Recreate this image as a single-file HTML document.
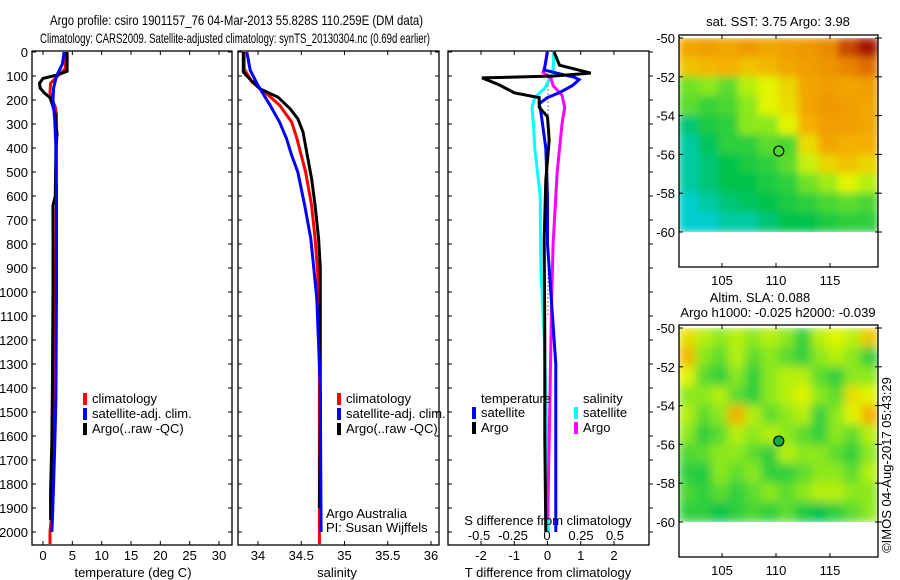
<!DOCTYPE html>
<html><head><meta charset="utf-8"><style>
html,body{margin:0;padding:0;background:#fff;}
svg{display:block;font-family:"Liberation Sans",sans-serif;}
</style></head><body>
<svg id="fig" width="900" height="580" viewBox="0 0 900 580" xmlns="http://www.w3.org/2000/svg">
<defs>
<clipPath id="cm1"><rect x="679" y="38" width="199" height="194"/></clipPath>
<clipPath id="cm2"><rect x="679" y="328" width="199" height="194"/></clipPath>
<filter id="bl1" x="-5%" y="-5%" width="110%" height="110%"><feGaussianBlur stdDeviation="4"/></filter>
<filter id="bl2" x="-5%" y="-5%" width="110%" height="110%"><feGaussianBlur stdDeviation="5"/></filter>
</defs>
<text x="50" y="25" font-size="14" textLength="373" lengthAdjust="spacingAndGlyphs">Argo profile: csiro 1901157_76 04-Mar-2013 55.828S 110.259E (DM data)</text>
<text x="40" y="43" font-size="14" textLength="390" lengthAdjust="spacingAndGlyphs">Climatology: CARS2009. Satellite-adjusted climatology: synTS_20130304.nc (0.69d earlier)</text>
<g id="g"></g>
</svg>
<script>
// ---------- data ----------
const depthTicks=[0,100,200,300,400,500,600,700,800,900,1000,1100,1200,1300,1400,1500,1600,1700,1800,1900,2000];
// temperature profiles
const tArgoD=[0,80,95,110,130,150,170,190,220,260,300,340,400,600,640,1000,1400,1630,1830,1950];
const tArgoV=[4.1,4.1,2.5,0.0,-0.6,-0.5,0.2,1.2,1.6,2.1,2.2,2.4,2.2,2.1,1.7,1.7,1.6,1.5,1.3,1.3];
const tClimD=[0,70,100,130,170,200,230,260,400,1000,1500,1900,2000,2050];
const tClimV=[3.9,3.8,2.5,1.3,1.2,1.6,2.1,2.3,2.3,2.2,2.0,1.6,1.2,1.2];
const tSatD=[0,50,100,150,200,280,400,600,1000,1450,1650,1800,1950,2000];
const tSatV=[3.6,3.3,2.3,1.8,1.7,2.0,2.2,2.3,2.3,2.2,2.0,1.8,1.6,1.5];
// salinity profiles
const sArgoD=[0,83,100,153,188,236,278,333,431,528,639,778,900,1500,1900];
const sArgoV=[33.83,33.83,33.87,34.02,34.23,34.37,34.46,34.52,34.57,34.62,34.66,34.70,34.72,34.72,34.71];
const sClimD=[0,70,125,167,222,292,361,500,639,778,917,1200,1600,2050];
const sClimV=[33.84,33.84,33.93,34.08,34.25,34.39,34.45,34.55,34.62,34.66,34.69,34.71,34.71,34.71];
const sSatD=[0,76,139,222,292,361,431,500,639,778,917,1028,1400,2000];
const sSatV=[33.87,33.91,34.0,34.14,34.25,34.33,34.39,34.46,34.54,34.61,34.65,34.68,34.72,34.73];
// difference profiles
const dTArgoD=[0,55,88,100,108,137,170,190,230,270,367,533,780,1200,1600,2000];
const dTArgoV=[0.2,0.36,1.3,0.2,-1.97,-1.45,-1.0,-0.25,-0.25,0.0,0.05,-0.05,-0.1,-0.08,-0.08,-0.05];
const dTSatD=[0,75,85,105,115,140,170,190,215,250,400,600,800,1300,1600,2000];
const dTSatV=[0.0,-0.1,0.2,0.8,0.95,0.75,0.35,0.0,-0.25,-0.2,-0.05,0.0,0.0,0.25,0.25,0.25];
const dSSatD=[0,90,110,150,190,230,300,400,600,900,1200,1600,2000];
const dSSatV=[0.05,0.045,0.02,-0.015,-0.09,-0.11,-0.1,-0.09,-0.05,-0.045,-0.02,0.0,0.01];
const dSArgoD=[0,60,85,110,140,180,230,300,500,800,1000,1500,1950];
const dSArgoV=[0.0,-0.015,-0.03,0.03,0.045,0.11,0.13,0.11,0.075,0.045,0.035,0.02,0.005];
// SST map (rows -50..-60, cols 101.7..119.9)
const sstGrid=[
[0.72,0.74,0.72,0.75,0.72,0.74,0.75,0.78,0.9,0.97],
[0.66,0.68,0.7,0.66,0.68,0.72,0.74,0.76,0.8,0.85],
[0.42,0.45,0.4,0.5,0.55,0.62,0.72,0.74,0.72,0.74],
[0.4,0.36,0.38,0.45,0.55,0.6,0.72,0.75,0.74,0.72],
[0.25,0.33,0.35,0.45,0.45,0.55,0.7,0.74,0.74,0.72],
[0.2,0.28,0.35,0.35,0.4,0.38,0.6,0.72,0.7,0.7],
[0.2,0.25,0.3,0.33,0.35,0.4,0.52,0.62,0.66,0.62],
[0.2,0.25,0.3,0.3,0.33,0.35,0.42,0.47,0.55,0.5],
[0.15,0.2,0.25,0.28,0.3,0.33,0.35,0.38,0.4,0.38],
[0.15,0.15,0.2,0.2,0.25,0.3,0.3,0.33,0.35,0.35]];
// SLA map
const slaGrid=[
[0.6,0.5,0.45,0.5,0.45,0.5,0.45,0.35,0.5,0.55,0.5,0.65],
[0.68,0.45,0.4,0.5,0.4,0.45,0.4,0.35,0.45,0.5,0.45,0.35],
[0.55,0.4,0.35,0.45,0.35,0.45,0.5,0.5,0.4,0.35,0.45,0.45],
[0.45,0.45,0.5,0.4,0.35,0.45,0.5,0.55,0.45,0.4,0.6,0.55],
[0.5,0.4,0.45,0.7,0.5,0.4,0.45,0.5,0.35,0.45,0.55,0.7],
[0.45,0.35,0.4,0.5,0.45,0.5,0.45,0.4,0.35,0.45,0.4,0.5],
[0.38,0.4,0.45,0.45,0.4,0.35,0.5,0.45,0.45,0.4,0.35,0.45],
[0.35,0.33,0.45,0.4,0.45,0.35,0.35,0.4,0.45,0.45,0.4,0.5],
[0.38,0.35,0.4,0.35,0.4,0.45,0.4,0.45,0.5,0.5,0.45,0.45],
[0.35,0.35,0.3,0.35,0.38,0.35,0.4,0.33,0.3,0.35,0.4,0.45]];
const tempTicks=[0,5,10,15,20,25,30];
const salTicks=[34,34.5,35,35.5,36];
const tdTicks=[-2,-1,0,1,2];
const sdTicks=[-0.5,-0.25,0,0.25,0.5];
const latTicks=[-50,-52,-54,-56,-58,-60];
const lonTicks=[105,110,115];
const argoLon=110.259, argoLat=-55.828;

// ---------- helpers ----------
const NS="http://www.w3.org/2000/svg";
const G=document.getElementById('g');
function mk(tag,attrs,parent){const e=document.createElementNS(NS,tag);for(const k in attrs)e.setAttribute(k,attrs[k]);(parent||G).appendChild(e);return e;}
function txt(s,x,y,anchor,size,parent){const e=mk('text',{x:x,y:y,'text-anchor':anchor||'start','font-size':size||13},parent);e.textContent=s;return e;}
const yD=d=>52+0.24*d;
function lin(v0,p0,v1,p1){return v=>p0+(v-v0)*(p1-p0)/(v1-v0);}
const xT=lin(0,43,30,219);
const xS=lin(34,258,36,431);
const xTD=lin(-2,481,2,614);
const xSD=lin(-0.5,479,0.5,615);
const yLat=lin(-50,38,-60,232);
const xLon=lin(105,722,115,830);
const yLat2=lin(-50,328,-60,522);

function line(xs,ds,fx,color,w,name,parent){
  const pts=xs.map((v,i)=>fx(v).toFixed(1)+','+yD(ds[i]).toFixed(1)).join(' ');
  const p=mk('polyline',{points:pts,fill:'none',stroke:color,'stroke-width':w,'stroke-linejoin':'miter'},parent);
  
  
  return p;
}
function frame(x,y,w,h,name){const r=mk('rect',{x:x,y:y,width:w,height:h,fill:'none',stroke:'#000','stroke-width':1.3});}
function depthAxis(x0,x1,labels,outsideRight){
  depthTicks.forEach(d=>{const y=yD(d);
    mk('line',{x1:x0,y1:y,x2:x0+4,y2:y,stroke:'#000'});
    if(outsideRight) mk('line',{x1:x1,y1:y,x2:x1+4,y2:y,stroke:'#000'});
    else mk('line',{x1:x1-4,y1:y,x2:x1,y2:y,stroke:'#000'});
    if(labels){const t=txt(String(d),x0-4,y+5,'end',13);}
  });
}
function xAxis(ticks,fx,yTop,yBot,labY,fmt){
  ticks.forEach(v=>{const x=fx(v);
    mk('line',{x1:x,y1:yBot,x2:x,y2:yBot-4,stroke:'#000'});
    mk('line',{x1:x,y1:yTop,x2:x,y2:yTop+4,stroke:'#000'});
    const t=txt(fmt?fmt(v):String(v),x,labY,'middle',13);
    
    
  });
}
function legend(x,y,items){
  items.forEach((it,i)=>{
    const b=mk('rect',{x:x,y:y+i*15-10,width:4,height:12,fill:it[1]});
    
    
    const t=txt(it[0],x+9,y+i*15,'start',13);
    
    
  });
}
function cmap(v){
  const st=[[0,[0,210,225]],[0.15,[0,205,205]],[0.3,[0,195,75]],[0.45,[140,232,30]],[0.55,[225,245,0]],[0.7,[245,175,0]],[0.85,[225,110,0]],[1,[150,0,0]]];
  v=Math.max(0,Math.min(1,v));
  for(let i=1;i<st.length;i++){if(v<=st[i][0]){const a=st[i-1],b=st[i],f=(v-a[0])/(b[0]-a[0]);
    return 'rgb('+a[1].map((c,k)=>Math.round(c+f*(b[1][k]-c))).join(',')+')';}}
  return 'rgb(150,0,0)';
}
function heat(grid,x0,x1,y0,y1,clip,filt,name){
  const g=mk('g',{'clip-path':'url(#'+clip+')'});
  const g2=mk('g',{filter:'url(#'+filt+')'},g);
  const R=grid.length,C=grid[0].length,cw=(x1-x0)/C,ch=(y1-y0)/R;
  grid.forEach((row,r)=>row.forEach((v,c)=>{
    const e=mk('rect',{x:(x0+c*cw-0.5).toFixed(1),y:(y0+r*ch-0.5).toFixed(1),width:(cw+1).toFixed(1),height:(ch+1).toFixed(1),fill:cmap(v)},g2);
    
    
  }));
  return g;
}

// ---------- panel 1: temperature ----------
frame(32,51,200,494,'temperature-panel');
depthAxis(32,232,true,false);
xAxis(tempTicks,xT,51,545,560);
txt('temperature (deg C)',133,577,'middle',13);
line(tClimV,tClimD,xT,'#f00',3,'temp-climatology-line');
line(tArgoV,tArgoD,xT,'#000',3,'temp-argo-line');
line(tSatV,tSatD,xT,'#00f',3,'temp-satellite-line');
legend(83,403,[['climatology','#f00'],['satellite-adj. clim.','#00f'],['Argo(..raw -QC)','#000']]);

// ---------- panel 2: salinity ----------
frame(238,51,201,494,'salinity-panel');
depthAxis(238,439,false,false);
xAxis(salTicks,xS,51,545,560);
txt('salinity',337,577,'middle',13);
line(sClimV,sClimD,xS,'#f00',3,'sal-climatology-line');
line(sArgoV,sArgoD,xS,'#000',3,'sal-argo-line');
line(sSatV,sSatD,xS,'#00f',3,'sal-satellite-line');
legend(337,403,[['climatology','#f00'],['satellite-adj. clim.','#00f'],['Argo(..raw -QC)','#000']]);
txt('Argo Australia',326,518,'start',13);
txt('PI: Susan Wijffels',326,532,'start',13);

// ---------- panel 3: differences ----------
frame(448,51,201,494,'difference-panel');
depthAxis(448,649,false,true);
xAxis(tdTicks,xTD,51,545,560);
txt('T difference from climatology',548,577,'middle',13);
mk('line',{x1:548,y1:yD(90),x2:548,y2:yD(1100),stroke:'#000','stroke-dasharray':'1,3'});
line(dSSatV,dSSatD,xSD,'#0ff',3,'sdiff-satellite-line');
line(dSArgoV,dSArgoD,xSD,'#f0f',3,'sdiff-argo-line');
line(dTSatV,dTSatD,xTD,'#00f',3,'tdiff-satellite-line');
line(dTArgoV,dTArgoD,xTD,'#000',3,'tdiff-argo-line');
txt('temperature',481,403,'start',13);
legend(472,417,[['satellite','#00f'],['Argo','#000']]);
txt('salinity',583,403,'start',13);
legend(574,417,[['satellite','#0ff'],['Argo','#f0f']]);
txt('S difference from climatology',548,525,'middle',13);
sdTicks.forEach(v=>{const t=txt(String(v),xSD(v),540,'middle',13);});

// ---------- map 1: SST ----------
heat(sstGrid,679,878,38,232,'cm1','bl1','sst-map');
frame(679,35,199,232,'sst-map-frame');
txt('sat. SST: 3.75 Argo: 3.98',778,26,'middle',13);
latTicks.forEach(v=>{const y=yLat(v);mk('line',{x1:875,y1:y,x2:882,y2:y,stroke:'#000'});mk('line',{x1:679,y1:y,x2:683,y2:y,stroke:'#000'});
  const t=txt(String(v),675,y+5,'end',13);});
lonTicks.forEach(v=>{const x=xLon(v);mk('line',{x1:x,y1:35,x2:x,y2:39,stroke:'#000'});mk('line',{x1:x,y1:263,x2:x,y2:267,stroke:'#000'});
  const t=txt(String(v),x,285,'middle',13);});
const c1=mk('circle',{cx:xLon(argoLon),cy:yLat(argoLat),r:5,fill:'none',stroke:'#000','stroke-width':1.2});



// ---------- map 2: SLA ----------
heat(slaGrid,679,878,328,522,'cm2','bl2','sla-map');
frame(679,325,199,232,'sla-map-frame');
txt('Altim. SLA: 0.088',760,302,'middle',13);
txt('Argo h1000: -0.025 h2000: -0.039',778,317,'middle',13);
latTicks.forEach(v=>{const y=yLat2(v);mk('line',{x1:875,y1:y,x2:882,y2:y,stroke:'#000'});mk('line',{x1:679,y1:y,x2:683,y2:y,stroke:'#000'});
  const t=txt(String(v),675,y+5,'end',13);});
lonTicks.forEach(v=>{const x=xLon(v);mk('line',{x1:x,y1:325,x2:x,y2:329,stroke:'#000'});mk('line',{x1:x,y1:553,x2:x,y2:557,stroke:'#000'});
  const t=txt(String(v),x,575,'middle',13);});
const c2=mk('circle',{cx:xLon(argoLon),cy:yLat2(argoLat),r:5,fill:'#00b040',stroke:'#000','stroke-width':1.2});


const side=txt('©IMOS 04-Aug-2017 05:43:29',0,0,'middle',13);
side.setAttribute('transform','translate(891,465) rotate(-90)');


</script>
</body></html>
